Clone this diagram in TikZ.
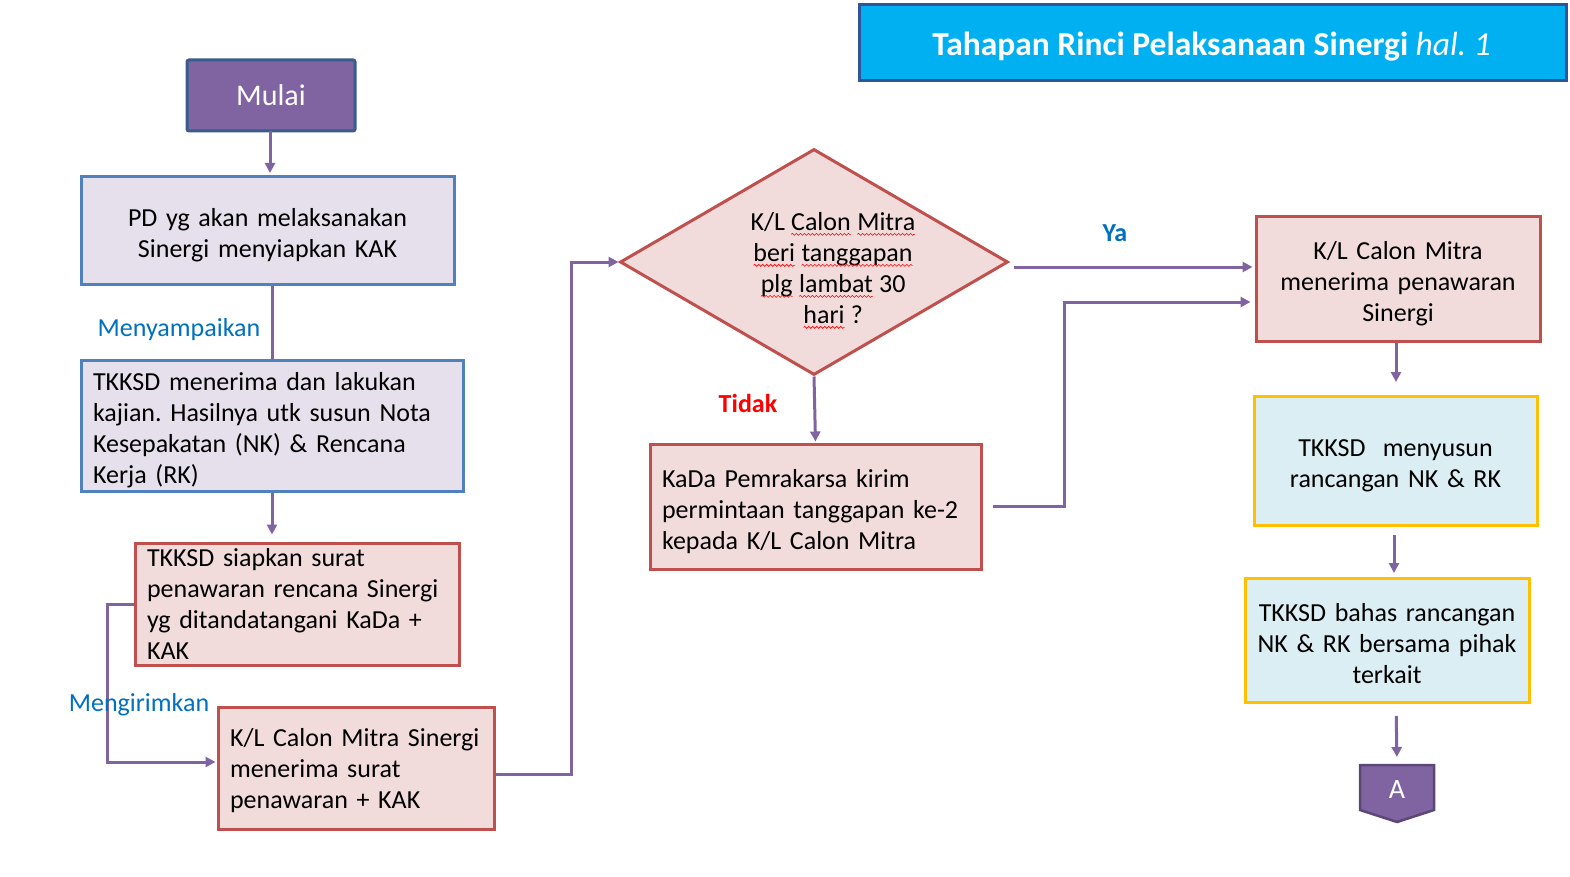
\documentclass[tikz,border=0pt]{standalone}
\usepackage{fontspec}
\setmainfont{Carlito}
\frenchspacing
\usetikzlibrary{arrows.meta,shapes.geometric,calc,decorations.pathmorphing}
\definecolor{purp}{HTML}{8064A2}
\definecolor{lavfill}{HTML}{E6E0EC}
\definecolor{blueborder}{HTML}{4F81BD}
\definecolor{pinkfill}{HTML}{F2DCDB}
\definecolor{redborder}{HTML}{C0504D}
\definecolor{lbfill}{HTML}{DBEEF4}
\definecolor{gold}{HTML}{FFC000}
\definecolor{titlecyan}{HTML}{00B0F0}
\definecolor{titleborder}{HTML}{2F5597}
\definecolor{mulaiborder}{HTML}{385D8A}
\definecolor{aborder}{HTML}{5C4776}
\definecolor{lblue}{HTML}{0070C0}
\newcommand\sqw[1]{\tikz[baseline=(w.base),x=1pt,y=1pt]{\node[inner sep=0pt,outer sep=0pt](w){#1};
  \draw[red,line width=0.6pt,decorate,decoration={snake,amplitude=1pt,segment length=4pt}]
  ([yshift=-4pt]w.base west) -- ([yshift=-4pt]w.base east);}}
\begin{document}
\begin{tikzpicture}[x=1pt,y=-1pt,
  plainbox/.style={draw, line width=3pt, inner xsep=12pt, inner ysep=0pt, font=\fontsize{26}{31}\selectfont},
  box/.style={plainbox, execute at begin node={\rule{0pt}{28pt}}},
  lav/.style={box, fill=lavfill, draw=blueborder},
  pinkbox/.style={box, fill=pinkfill, draw=redborder},
  pinkplain/.style={plainbox, fill=pinkfill, draw=redborder},
  lbbox/.style={box, fill=lbfill, draw=gold},
  arr/.style={draw=purp, line width=3pt, -{Triangle[length=10pt,width=10pt]}},
  ln/.style={draw=purp, line width=3pt},
  lbl/.style={font=\fontsize{26}{31}\selectfont, inner sep=0pt}]
\useasboundingbox (0,0) rectangle (1570,877);
\fill[white] (0,0) rectangle (1570,877);

% title
\node[draw=titleborder, fill=titlecyan, line width=3pt, minimum width=707pt, minimum height=76pt] (title) at (1212.5,43) {};
\node[text=white, font=\fontsize{33.5}{40}\selectfont, inner sep=0pt] (titletext) at (1211.5,47)
  {\textbf{Tahapan Rinci Pelaksanaan Sinergi} \textit{hal. 1}};

% start
\node[draw=mulaiborder, fill=purp, line width=3pt, rounded corners=2pt, minimum width=168pt,
  minimum height=71pt, text=white, font=\fontsize{30}{36}\selectfont] (mulai) at (271,95.5) {Mulai};

\node[lav, minimum width=373pt, minimum height=107pt, text width=349pt, align=center] (pd) at (267.5,230.5)
  {PD yg akan melaksanakan\\Sinergi menyiapkan KAK};

\node[lav, minimum width=382pt, minimum height=131pt, text width=358pt, align=left] (tk1) at (272,425.5)
  {TKKSD menerima dan lakukan\\kajian. Hasilnya utk susun Nota\\Kesepakatan (NK) \& Rencana\\Kerja (RK)};

\node[pinkplain, minimum width=324pt, minimum height=122pt, text width=300pt, align=left] (tk2) at (297,604)
  {TKKSD siapkan surat\\penawaran rencana Sinergi\\yg ditandatangani KaDa +\\KAK};

\node[pinkbox, minimum width=276pt, minimum height=122pt, text width=252pt, align=left] (kl1) at (356,768)
  {K/L Calon Mitra Sinergi\\menerima surat\\penawaran + KAK\rule[-10pt]{0pt}{0pt}};

\node[diamond, draw=redborder, fill=pinkfill, line width=3pt, minimum width=388pt, minimum height=226pt,
  inner sep=0pt] (dia) at (814,262) {};
\node[lbl, align=center] (diatext) at (833,270.5)
  {K/L \sqw{Calon} \sqw{Mitra}\\\sqw{beri} \sqw{tanggapan}\\\sqw{plg} \sqw{lambat} 30\\\sqw{hari} ?};

\node[pinkbox, minimum width=331pt, minimum height=125pt, text width=307pt, align=left] (kada) at (815.5,506.5)
  {KaDa Pemrakarsa kirim\\permintaan tanggapan ke-2\\kepada K/L Calon Mitra};

\node[pinkbox, minimum width=284pt, minimum height=124pt, text width=260pt, align=center] (klm) at (1398,279)
  {K/L Calon Mitra\\menerima penawaran\\Sinergi};

\node[lbbox, minimum width=283pt, minimum height=129pt, text width=259pt, align=center] (susun) at (1395.5,460.5)
  {TKKSD~ menyusun\\rancangan NK \& RK};

\node[lbbox, minimum width=284pt, minimum height=124pt, text width=260pt, align=center] (bahas) at (1387,640)
  {TKKSD bahas rancangan\\NK \& RK bersama pihak\\terkait\rule[-4pt]{0pt}{0pt}};

% off-page connector A
\coordinate (Atop) at (1397,765);
\filldraw[fill=purp, draw=aborder, line width=2.5pt] (1360,765) -- (1434,765) -- (1434,810) -- (1397,822) -- (1360,810) -- cycle;
\node[text=white, font=\fontsize{28}{32}\selectfont, inner sep=0pt] (A) at (1397,790) {A};

% connectors
\draw[arr, shorten >=4pt] (270,131) -- (270,177);
\draw[ln] (tk1.north |- pd.south) -- (tk1.north);
\node[lbl, text=lblue] (lmenyampaikan) at (179,330) {Menyampaikan};
\draw[arr, shorten >=7pt] (tk1.south) -- (tk1.south |- tk2.north);
\draw[arr, shorten >=1pt] (tk2.west) -- ++(-26,0) |- ($(kl1.west)+(0,-6)$);
\node[lbl, text=lblue] (lmengirimkan) at (139,705) {Mengirimkan};
\draw[arr] ($(kl1.east)+(0,6)$) -- ++(76,0) |- (dia.west);
\coordinate (ya1) at ($(dia.east)+(4,5)$);
\draw[arr, shorten >=2pt] (ya1) -- (ya1 -| klm.west);
\node[lbl, text=lblue, font=\bfseries\fontsize{26}{31}\selectfont] (lya) at (1115,233) {Ya};
\draw[arr, shorten >=1pt] (dia.south) -- (kada.north);
\node[lbl, text=red, font=\bfseries\fontsize{26}{31}\selectfont] (ltidak) at (748,403) {Tidak};
\draw[arr, shorten >=4pt] ($(kada.east)+(10,0)$) -- ++(72,0) |- ($(klm.west)+(0,23)$);
\draw[arr, shorten >=14pt, shorten <=2pt] (1396,341) -- (1396,396);
\draw[arr, shorten >=5pt, shorten <=10pt] (1394,525) -- (1394,578);
\draw[arr, shorten >=8pt, shorten <=14pt] (1396,702) -- (Atop);
\end{tikzpicture}
\end{document}
